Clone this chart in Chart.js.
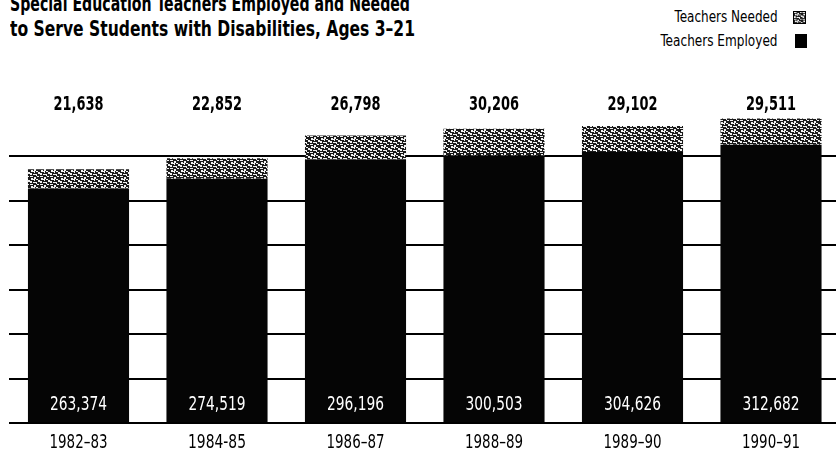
<!DOCTYPE html>
<html>
<head>
<meta charset="utf-8">
<script src="https://cdn.jsdelivr.net/npm/chart.js@4/dist/chart.umd.min.js"></script>
<style>
  html, body { margin: 0; padding: 0; background: #fff; width: 836px; height: 454px; overflow: hidden; position: relative; }
  #chart { position: absolute; left: 0; top: 0; }
  .title { position: absolute; left: 10px; font: bold 21px 'DejaVu Sans Condensed', 'Liberation Sans', sans-serif; line-height: 25px; color: #000; white-space: nowrap; transform-origin: 0 0; }
  .legend-text { position: absolute; font: 15px 'DejaVu Sans Condensed', 'Liberation Sans', sans-serif; color: #000; white-space: nowrap; transform-origin: 100% 0; }
  .swatch { position: absolute; border: 1px solid #000; box-sizing: border-box; }
</style>
</head>
<body>
<div class="title" id="t1" data-w="400" style="top:-8px">Special Education Teachers Employed and Needed</div>
<div class="title" id="t2" data-w="405" style="top:17px">to Serve Students with Disabilities, Ages 3–21</div>
<div class="legend-text" id="l1" data-w="103" style="right:58px; top:8px">Teachers Needed</div>
<div class="legend-text" id="l2" data-w="117" style="right:58px; top:32px">Teachers Employed</div>
<canvas class="swatch" id="sw1" width="13" height="13" style="left:793px; top:11px; width:13px; height:13px"></canvas>
<div class="swatch" style="left:795px; top:34px; width:12px; height:14px; background:#000"></div>
<canvas id="chart" width="842" height="454" style="width:842px; height:454px"></canvas>
<script>
// School years shown along the bottom
const years = ['1982–83', '1984-85', '1986–87', '1988–89', '1989–90', '1990–91'];
// Special education teachers employed (bottom segment)
const employed = [263374, 274519, 296196, 300503, 304626, 312682];
// Additional teachers needed (top segment)
const needed = [21638, 22852, 26798, 30206, 29102, 29511];
// Horizontal rule positions on the value axis
const gridStep = 50000;
const gridTop = 300000;

const fmt = v => v.toLocaleString('en-US');

// Salt-and-pepper fill for the "needed" segment
function speckle() {
  const c = document.createElement('canvas');
  c.width = 10; c.height = 8;
  const g = c.getContext('2d');
  g.fillStyle = '#1a1a1a';
  g.fillRect(0, 0, 10, 8);
  g.fillStyle = '#f0f0f0';
  const dots = [[0,0,3,1],[4,1,2,2],[7,0,2,1],[1,2,2,2],[2,3,3,1],[6,3,2,1],[8,4,2,2],[0,5,2,2],[3,6,3,1],[6,6,1,2],[4,4,1,1]];
  dots.forEach(d => g.fillRect(d[0], d[1], d[2], d[3]));
  return c;
}
const speckleCanvas = speckle();

// Legend swatch
(function () {
  const s = document.getElementById('sw1').getContext('2d');
  s.fillStyle = s.createPattern(speckleCanvas, 'repeat');
  s.fillRect(0, 0, 13, 13);
})();

// Fit condensed text to its printed width
function fitWidths() {
  document.querySelectorAll('[data-w]').forEach(el => {
    el.style.transform = 'none';
    const w = el.getBoundingClientRect().width;
    el.style.transform = 'scaleX(' + (parseFloat(el.dataset.w) / w) + ')';
  });
}
fitWidths();

const labelFont = "'DejaVu Sans Condensed', 'Liberation Sans', sans-serif";

// Draw text centred at (x, y), squeezed horizontally to a given width
function fitText(ctx, text, x, y, font, width) {
  ctx.font = font;
  const w = ctx.measureText(text).width;
  ctx.save();
  ctx.translate(x, y);
  ctx.scale(Math.min(1, width / w), 1);
  ctx.fillText(text, 0, 0);
  ctx.restore();
}

// Value labels: needed totals in a row above the bars, employed counts inside the bar feet,
// school years under the x scale positions
const valueLabels = {
  id: 'valueLabels',
  afterDatasetsDraw(chart) {
    const ctx = chart.ctx;
    const xs = chart.scales.x;
    ctx.save();
    ctx.textAlign = 'center';
    ctx.textBaseline = 'middle';
    years.forEach((yr, i) => {
      const x = xs.getPixelForValue(i);
      ctx.fillStyle = '#000';
      fitText(ctx, fmt(needed[i]), x, 105, 'bold 19px ' + labelFont, 50);
      ctx.fillStyle = '#fff';
      fitText(ctx, fmt(employed[i]), x, 405.5, '19px ' + labelFont, 57);
      ctx.fillStyle = '#000';
      fitText(ctx, yr, x, 442.5, '20px ' + labelFont, 58);
    });
    ctx.restore();
  }
};

const ctx = document.getElementById('chart').getContext('2d');
new Chart(ctx, {
  type: 'bar',
  data: {
    labels: years,
    datasets: [
      { label: 'Teachers Employed', data: employed, backgroundColor: '#050505', borderWidth: 0 },
      { label: 'Teachers Needed', data: needed, backgroundColor: ctx.createPattern(speckleCanvas, 'repeat'), borderWidth: 0 }
    ]
  },
  options: {
    responsive: false,
    animation: false,
    events: [],
    layout: { padding: { top: 111.5, left: 9.25, right: 1.75, bottom: 0 } },
    datasets: { bar: { barPercentage: 0.73, categoryPercentage: 1 } },
    plugins: { legend: { display: false }, title: { display: false }, tooltip: { enabled: false } },
    scales: {
      x: {
        stacked: true,
        grid: { display: false },
        border: { display: false },
        ticks: { display: false },
        afterFit(scale) { scale.height = 31; }
      },
      y: {
        stacked: true,
        min: 0,
        max: 350000,
        border: { display: false },
        ticks: { display: false, stepSize: gridStep },
        grid: {
          drawTicks: false,
          lineWidth: 2,
          color: c => (c.tick && c.tick.value <= gridTop) ? '#000' : 'rgba(0,0,0,0)'
        },
        afterFit(scale) { scale.width = 0; }
      }
    }
  },
  plugins: [valueLabels]
});
</script>
</body>
</html>
